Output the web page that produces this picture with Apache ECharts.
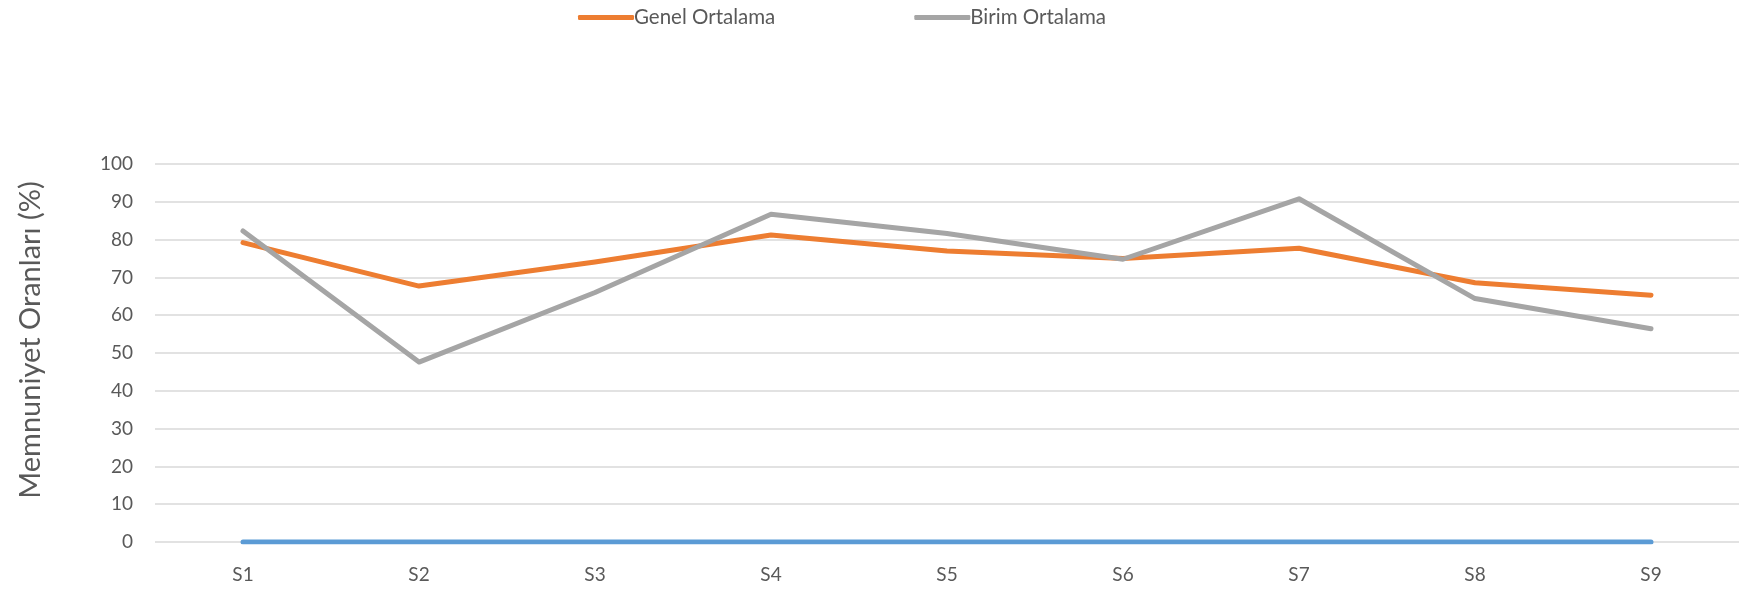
<!DOCTYPE html>
<html>
<head>
<meta charset="utf-8">
<script src="https://cdn.jsdelivr.net/npm/echarts@6/dist/echarts.min.js"></script>
<style>
html,body{margin:0;padding:0;background:#fff;}
#chart{width:1742px;height:596px;}
</style>
</head>
<body>
<div id="chart"></div>
<script>
const categories = ['S1','S2','S3','S4','S5','S6','S7','S8','S9'];
const genelOrtalama = [79.2, 67.7, 74.1, 81.2, 77.0, 75.0, 77.7, 68.6, 65.3];
const birimOrtalama = [82.3, 47.6, 66.0, 86.7, 81.6, 74.8, 90.8, 64.4, 56.4];
const taban = [0, 0, 0, 0, 0, 0, 0, 0, 0];
const seriesNames = ['Genel Ortalama', 'Birim Ortalama'];
const yAxisTitle = 'Memnuniyet Oranları (%)';

const FONT = 'Lato, "Open Sans", sans-serif';
const chart = echarts.init(document.getElementById('chart'), null, {renderer: 'canvas'});
chart.setOption({
  animation: false,
  backgroundColor: '#ffffff',
  textStyle: {fontFamily: FONT},
  legend: {
    data: seriesNames,
    top: 2,
    left: 573,
    itemWidth: 56,
    itemHeight: 5,
    itemGap: 139,
    icon: 'roundRect',
    textStyle: {fontSize: 20.5, color: '#595959', fontFamily: FONT, padding: [0,0,0,-5]}
  },
  grid: {left: 155, right: 3, top: 164, bottom: 54, containLabel: false},
  xAxis: {
    type: 'category',
    data: categories,
    boundaryGap: true,
    axisLine: {show: false},
    axisTick: {show: false},
    axisLabel: {fontSize: 19, color: '#595959', margin: 23, fontFamily: FONT}
  },
  yAxis: {
    type: 'value',
    min: 0, max: 100, interval: 10,
    name: yAxisTitle,
    nameLocation: 'middle',
    nameGap: 110,
    nameTextStyle: {fontSize: 29, color: '#595959', fontFamily: FONT, padding: [0, 0, 0, 26]},
    axisLine: {show: false},
    axisTick: {show: false},
    axisLabel: {fontSize: 19, color: '#595959', margin: 22, fontFamily: FONT},
    splitLine: {lineStyle: {color: '#D9D9D9', width: 1.5}}
  },
  series: [
    {
      name: 'Taban', type: 'line', data: taban, symbol: 'none',
      lineStyle: {color: '#5B9BD5', width: 5, cap: 'round', join: 'round'},
      itemStyle: {color: '#5B9BD5'}, z: 2
    },
    {
      name: seriesNames[0], type: 'line', data: genelOrtalama, symbol: 'none',
      lineStyle: {color: '#ED7D31', width: 5, cap: 'round', join: 'round'},
      itemStyle: {color: '#ED7D31'}, z: 3
    },
    {
      name: seriesNames[1], type: 'line', data: birimOrtalama, symbol: 'none',
      lineStyle: {color: '#A5A5A5', width: 5, cap: 'round', join: 'round'},
      itemStyle: {color: '#A5A5A5'}, z: 4
    }
  ]
});
</script>
</body>
</html>
